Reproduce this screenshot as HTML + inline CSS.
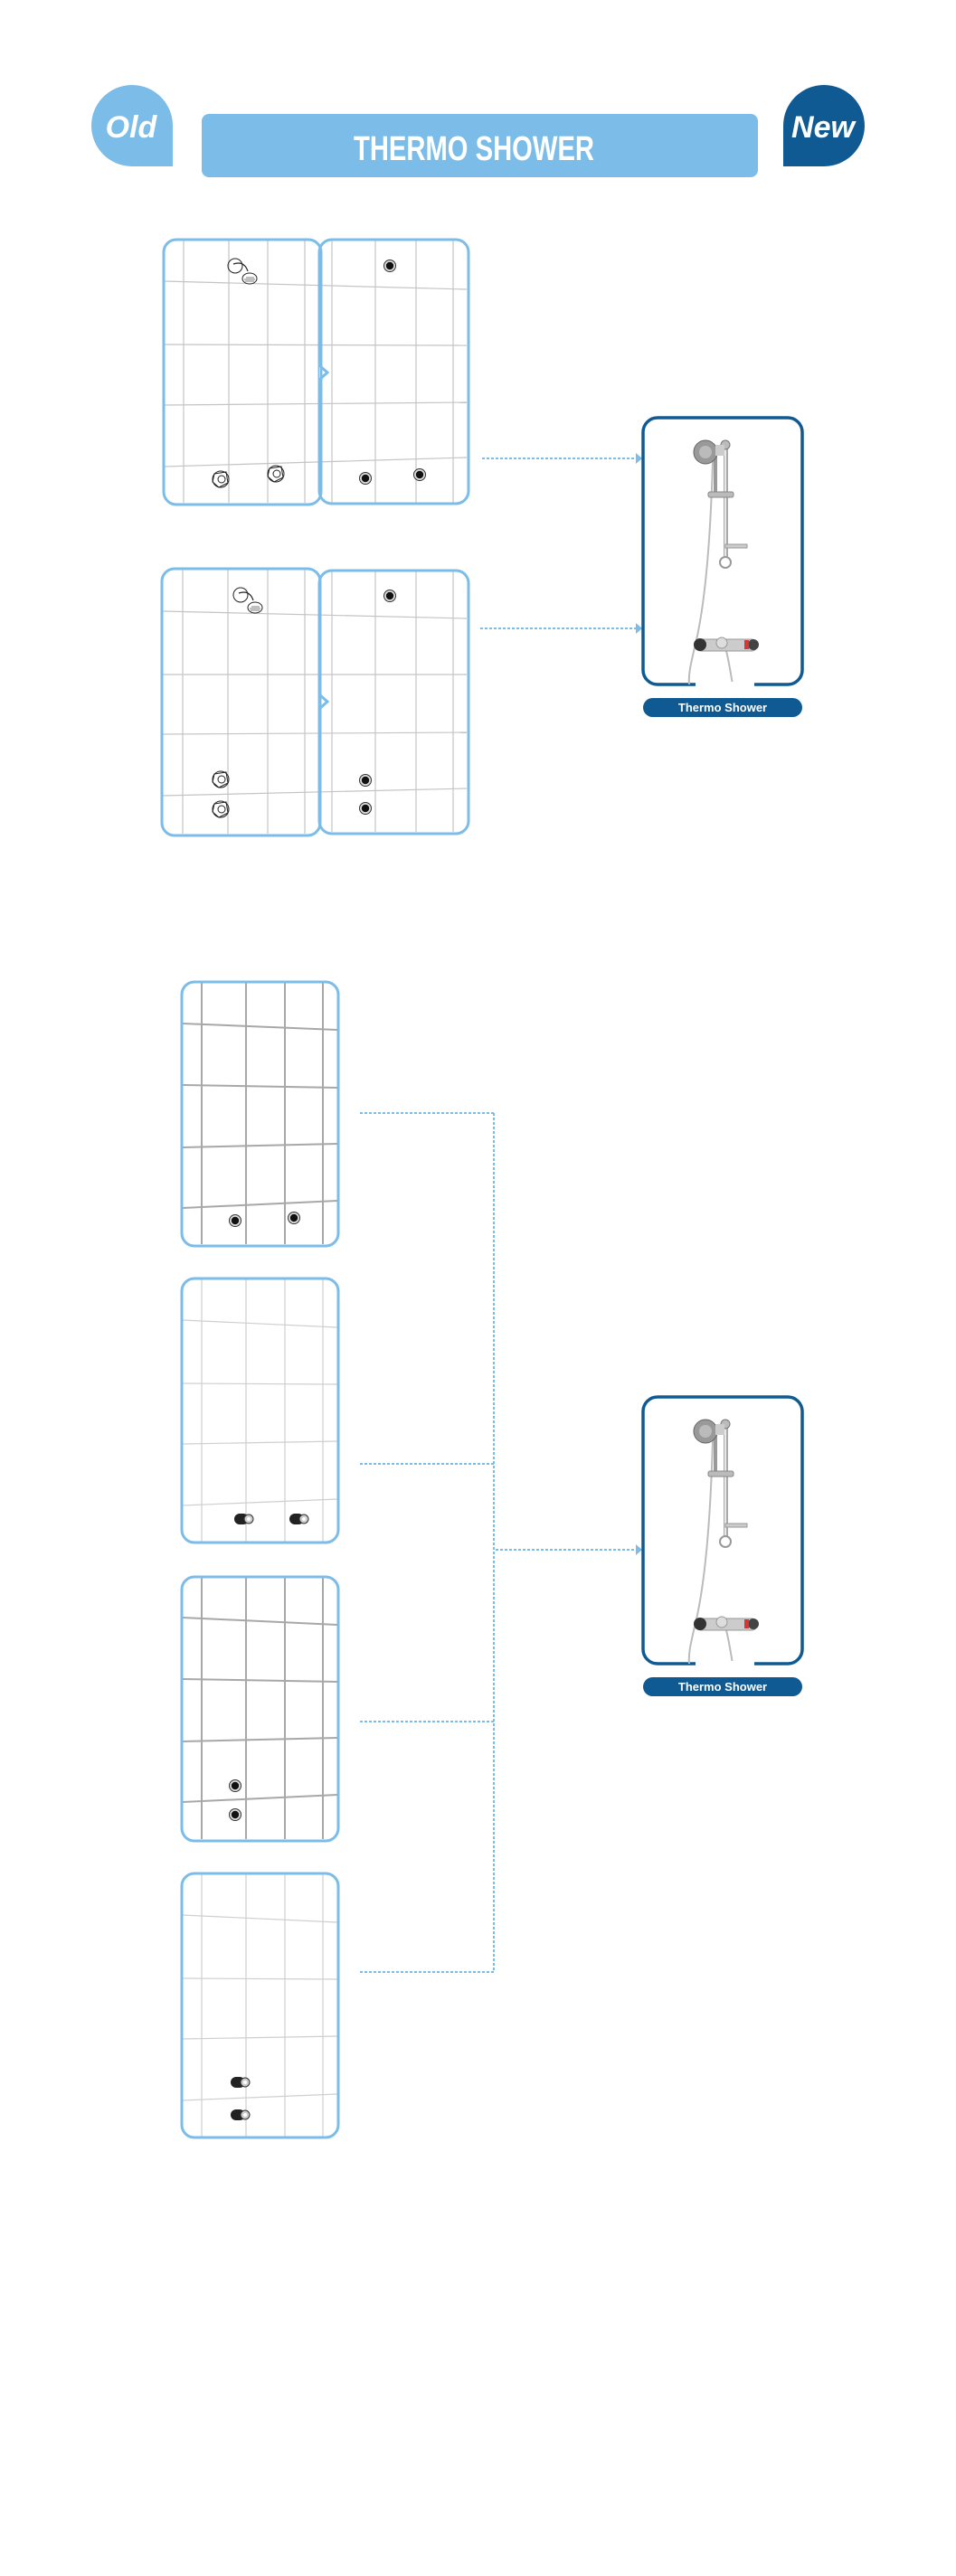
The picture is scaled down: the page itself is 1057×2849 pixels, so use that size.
<!DOCTYPE html>
<html><head><meta charset="utf-8"><style>
html,body{margin:0;padding:0;background:#fff;}
svg{display:block;}
</style></head><body>
<svg width="1057" height="2849" viewBox="0 0 1057 2849" xmlns="http://www.w3.org/2000/svg" font-family="Liberation Sans, sans-serif">
<defs>
<g id="cross">
  <circle cx="0" cy="0" r="9" fill="none" stroke="#222" stroke-width="1"/>
  <path d="M-7,-6 L6,-8 L8,4 L-2,9 L-9,3 Z" fill="none" stroke="#222" stroke-width="1"/>
  <circle cx="1" cy="0" r="4" fill="none" stroke="#222" stroke-width="1"/>
</g>
<g id="head">
  <circle cx="-10" cy="-10" r="8" fill="none" stroke="#222" stroke-width="1"/>
  <path d="M-12,-12 Q0,-16 4,-4" fill="none" stroke="#222" stroke-width="1.2"/>
  <ellipse cx="6" cy="4" rx="8" ry="6" fill="#fff" stroke="#222" stroke-width="1"/>
  <path d="M0,5 h12 M1,7 h10 M2,3 h9" stroke="#555" stroke-width="0.8"/>
</g>
<g id="dot">
  <circle cx="0" cy="0" r="6.5" fill="#ddd" stroke="#333" stroke-width="1"/>
  <circle cx="0" cy="0" r="4.2" fill="#111"/>
</g>
<g id="elbow">
  <rect x="-9" y="-6" width="16" height="12" rx="6" fill="#222"/>
  <circle cx="7" cy="0" r="5" fill="#ccc" stroke="#333" stroke-width="1"/>
  <circle cx="7" cy="0" r="2" fill="#fff"/>
</g>
<g id="shower">
  <rect x="0" y="0" width="176" height="295" rx="16" fill="#fff" stroke="#0f5a92" stroke-width="3.5"/>
  <path d="M77,48 C75,120 70,200 58,250 C52,275 50,285 51,295" fill="none" stroke="#bbb" stroke-width="2"/>
  <path d="M92,258 C95,270 97,283 99,295" fill="none" stroke="#bbb" stroke-width="2"/>
  <rect x="89" y="30" width="5" height="132" fill="#aaa"/>
  <rect x="90" y="30" width="2" height="132" fill="#e8e8e8"/>
  <circle cx="91" cy="30" r="5" fill="#bbb" stroke="#777"/>
  <rect x="78" y="33" width="4" height="50" fill="#999"/>
  <circle cx="69" cy="38" r="13" fill="#999" stroke="#666"/>
  <circle cx="69" cy="38" r="7" fill="#bbb"/>
  <rect x="80" y="30" width="10" height="12" fill="#ccc"/>
  <rect x="72" y="82" width="28" height="6" rx="2" fill="#bbb" stroke="#888"/>
  <rect x="91" y="140" width="24" height="4" fill="#ccc" stroke="#999"/>
  <circle cx="91" cy="160" r="6" fill="#fff" stroke="#999" stroke-width="2"/>
  <rect x="58" y="245" width="68" height="13" rx="6" fill="#ccc" stroke="#999"/>
  <circle cx="63" cy="251" r="7" fill="#333"/>
  <circle cx="122" cy="251" r="6" fill="#444"/>
  <rect x="112" y="246" width="5" height="10" fill="#d33"/>
  <circle cx="87" cy="249" r="6" fill="#ddd" stroke="#999"/>
  <rect x="58" y="292" width="65" height="6" fill="#fff"/>
  <rect x="0" y="310" width="176" height="21" rx="10.5" fill="#0f5a92"/>
  <text x="88" y="325" text-anchor="middle" fill="#fff" font-size="13" font-weight="bold">Thermo Shower</text>
</g>
</defs>

<path d="M146,94 a45,45 0 0 0 -45,45 a45,45 0 0 0 45,45 h45 v-45 a45,45 0 0 0 -45,-45z" fill="#7bbde8"/>
<text x="145" y="152" text-anchor="middle" fill="#fff" font-size="34" font-weight="bold" font-style="italic">Old</text>
<rect x="223" y="126" width="615" height="70" rx="8" fill="#7bbde8"/>
<text x="391" y="177" fill="#fff" font-size="38" font-weight="bold" textLength="266" lengthAdjust="spacingAndGlyphs">THERMO SHOWER</text>
<path d="M911,94 a45,45 0 0 1 45,45 a45,45 0 0 1 -45,45 h-45 v-45 a45,45 0 0 1 45,-45z" fill="#0f5a92"/>
<text x="910" y="152" text-anchor="middle" fill="#fff" font-size="34" font-weight="bold" font-style="italic">New</text>

<g stroke="#c4c4c4" stroke-width="1.2">
  <line x1="203" y1="266" x2="203" y2="556"/><line x1="253" y1="266" x2="253" y2="556"/><line x1="296" y1="266" x2="296" y2="556"/><line x1="337" y1="266" x2="337" y2="556"/>
  <line x1="367" y1="266" x2="367" y2="556"/><line x1="415" y1="266" x2="415" y2="556"/><line x1="460" y1="266" x2="460" y2="556"/><line x1="501" y1="266" x2="501" y2="556"/>
  <line x1="182" y1="311" x2="516" y2="320"/><line x1="182" y1="381" x2="516" y2="382"/><line x1="182" y1="448" x2="516" y2="445"/><line x1="182" y1="516" x2="516" y2="506"/>
</g>
<rect x="353" y="265" width="165" height="292" rx="14" fill="none" stroke="#7bbde8" stroke-width="3"/>
<path d="M353,404 L362,412 L353,420" fill="#fff" stroke="#7bbde8" stroke-width="3"/>
<rect x="181" y="265" width="174" height="293" rx="14" fill="none" stroke="#7bbde8" stroke-width="3"/>
<use href="#head" x="270" y="304"/>
<use href="#cross" x="244" y="530"/><use href="#cross" x="305" y="524"/>
<use href="#dot" x="431" y="294"/><use href="#dot" x="404" y="529"/><use href="#dot" x="464" y="525"/>

<g stroke="#c4c4c4" stroke-width="1.2">
  <line x1="202" y1="630" x2="202" y2="922"/><line x1="252" y1="630" x2="252" y2="922"/><line x1="296" y1="630" x2="296" y2="922"/><line x1="337" y1="630" x2="337" y2="922"/>
  <line x1="367" y1="632" x2="367" y2="920"/><line x1="415" y1="632" x2="415" y2="920"/><line x1="460" y1="632" x2="460" y2="920"/><line x1="501" y1="632" x2="501" y2="920"/>
  <line x1="180" y1="676" x2="516" y2="684"/><line x1="180" y1="746" x2="516" y2="746"/><line x1="180" y1="812" x2="516" y2="810"/><line x1="180" y1="880" x2="516" y2="872"/>
</g>
<rect x="353" y="631" width="165" height="291" rx="14" fill="none" stroke="#7bbde8" stroke-width="3"/>
<path d="M353,768 L362,776 L353,784" fill="#fff" stroke="#7bbde8" stroke-width="3"/>
<rect x="179" y="629" width="175" height="295" rx="14" fill="none" stroke="#7bbde8" stroke-width="3"/>
<use href="#head" x="276" y="668"/>
<use href="#cross" x="244" y="862"/><use href="#cross" x="244" y="895"/>
<use href="#dot" x="431" y="659"/><use href="#dot" x="404" y="863"/><use href="#dot" x="404" y="894"/>

<g stroke="#7bbde8" stroke-width="2" stroke-dasharray="3 2" fill="none">
  <line x1="533" y1="507" x2="703" y2="507"/>
  <line x1="531" y1="695" x2="703" y2="695"/>
</g>
<path d="M703,501 L710,507 L703,513 Z" fill="#7bbde8"/>
<path d="M703,689 L710,695 L703,701 Z" fill="#7bbde8"/>
<use href="#shower" x="711" y="462"/>

<g stroke="#a8a8a8" stroke-width="2">
  <line x1="223" y1="1087" x2="223" y2="1376"/><line x1="272" y1="1087" x2="272" y2="1376"/><line x1="315" y1="1087" x2="315" y2="1376"/><line x1="357" y1="1087" x2="357" y2="1376"/>
  <line x1="202" y1="1132" x2="373" y2="1139"/><line x1="202" y1="1200" x2="373" y2="1203"/><line x1="202" y1="1269" x2="373" y2="1265"/><line x1="202" y1="1336" x2="373" y2="1328"/>
</g>
<rect x="201" y="1086" width="173" height="292" rx="14" fill="none" stroke="#7bbde8" stroke-width="3"/>
<use href="#dot" x="260" y="1350"/><use href="#dot" x="325" y="1347"/>

<g stroke="#cfcfcf" stroke-width="1.2">
  <line x1="223" y1="1415" x2="223" y2="1705"/><line x1="272" y1="1415" x2="272" y2="1705"/><line x1="315" y1="1415" x2="315" y2="1705"/><line x1="357" y1="1415" x2="357" y2="1705"/>
  <line x1="202" y1="1460" x2="373" y2="1468"/><line x1="202" y1="1530" x2="373" y2="1531"/><line x1="202" y1="1597" x2="373" y2="1594"/><line x1="202" y1="1665" x2="373" y2="1658"/>
</g>
<rect x="201" y="1414" width="173" height="292" rx="14" fill="none" stroke="#7bbde8" stroke-width="3"/>
<use href="#elbow" x="268" y="1680"/><use href="#elbow" x="329" y="1680"/>

<g stroke="#a8a8a8" stroke-width="2">
  <line x1="223" y1="1745" x2="223" y2="2034"/><line x1="272" y1="1745" x2="272" y2="2034"/><line x1="315" y1="1745" x2="315" y2="2034"/><line x1="357" y1="1745" x2="357" y2="2034"/>
  <line x1="202" y1="1789" x2="373" y2="1797"/><line x1="202" y1="1857" x2="373" y2="1860"/><line x1="202" y1="1926" x2="373" y2="1922"/><line x1="202" y1="1993" x2="373" y2="1985"/>
</g>
<rect x="201" y="1744" width="173" height="292" rx="14" fill="none" stroke="#7bbde8" stroke-width="3"/>
<use href="#dot" x="260" y="1975"/><use href="#dot" x="260" y="2007"/>

<g stroke="#cfcfcf" stroke-width="1.2">
  <line x1="223" y1="2073" x2="223" y2="2363"/><line x1="272" y1="2073" x2="272" y2="2363"/><line x1="315" y1="2073" x2="315" y2="2363"/><line x1="357" y1="2073" x2="357" y2="2363"/>
  <line x1="202" y1="2118" x2="373" y2="2126"/><line x1="202" y1="2188" x2="373" y2="2189"/><line x1="202" y1="2255" x2="373" y2="2252"/><line x1="202" y1="2323" x2="373" y2="2316"/>
</g>
<rect x="201" y="2072" width="173" height="292" rx="14" fill="none" stroke="#7bbde8" stroke-width="3"/>
<use href="#elbow" x="264" y="2303"/><use href="#elbow" x="264" y="2339"/>

<g stroke="#7bbde8" stroke-width="2" stroke-dasharray="3 2" fill="none">
  <line x1="398" y1="1231" x2="546" y2="1231"/>
  <line x1="398" y1="1619" x2="546" y2="1619"/>
  <line x1="398" y1="1904" x2="546" y2="1904"/>
  <line x1="398" y1="2181" x2="546" y2="2181"/>
  <line x1="546" y1="1231" x2="546" y2="2181"/>
  <line x1="548" y1="1714" x2="703" y2="1714"/>
</g>
<path d="M703,1708 L710,1714 L703,1720 Z" fill="#7bbde8"/>
<use href="#shower" x="711" y="1545"/>
</svg>
</body></html>
